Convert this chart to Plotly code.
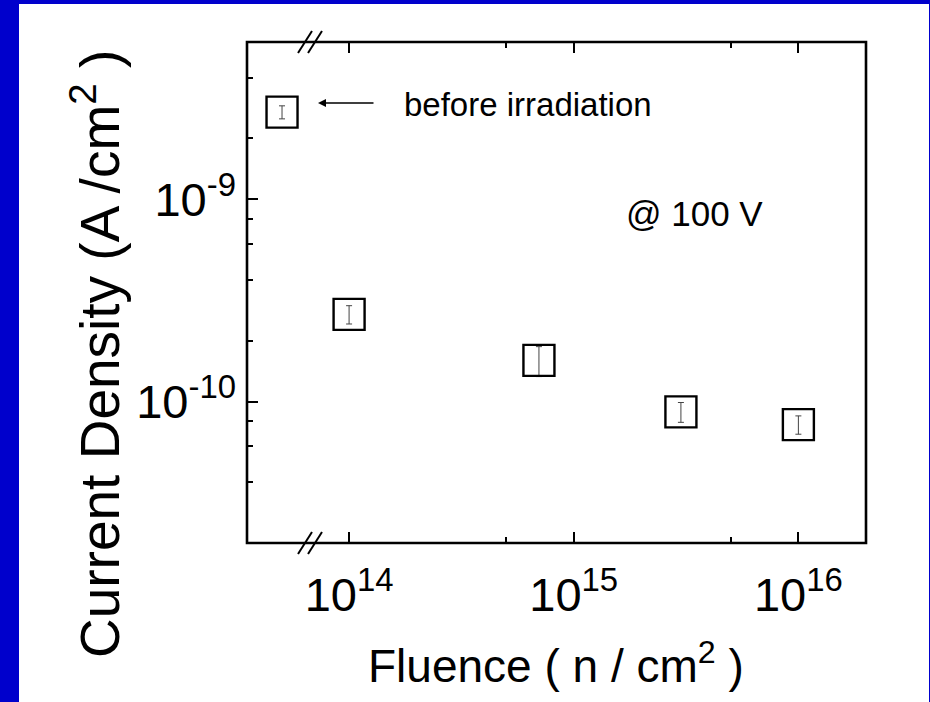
import plotly.graph_objects as go

# Leakage current density at 100 V versus neutron fluence
fluence = [1e14, 7e14, 3e15, 1e16]             # n / cm^2
current = [2.7e-10, 1.6e-10, 8.9e-11, 7.7e-11]  # A / cm^2
current_err = [0.28e-10, 0.27e-10, 0.10e-10, 0.08e-10]

# Unirradiated reference measurement (shown left of the axis break)
before_label = ["before irradiation"]
before_current = [2.7e-9]
before_err = [0.2e-9]

x_major = [1e14, 1e15, 1e16]
x_major_text = ["10<sup>14</sup>", "10<sup>15</sup>", "10<sup>16</sup>"]
x_minor = [5e14, 5e15]
y_major = [1e-10, 1e-9]
y_major_text = ["10<sup>-10</sup>", "10<sup>-9</sup>"]
y_minor = [4e-11, 6e-11, 8e-11, 2e-10, 4e-10, 6e-10, 8e-10, 2e-9, 4e-9]

FONT = "Liberation Sans, Arial, sans-serif"
W, H = 930, 702
L, R, T, B = 247, 64, 42, 159
pw, ph = W - L - R, H - T - B
brk = (310 - L) / pw   # paper position of the axis break


def px(xp):
    return (xp - L) / pw


def py(yp):
    return (H - B - yp) / ph


marker = dict(symbol="square-open", size=31, color="black", line=dict(width=2.4, color="black"))
errstyle = dict(type="data", thickness=1, width=3, color="#444")

fig = go.Figure()
fig.add_trace(go.Scatter(
    x=before_label, y=before_current, mode="markers", marker=marker,
    error_y=dict(array=before_err, **errstyle), xaxis="x", yaxis="y", showlegend=False))
fig.add_trace(go.Scatter(
    x=fluence, y=current, mode="markers", marker=marker,
    error_y=dict(array=current_err, **errstyle), xaxis="x2", yaxis="y", showlegend=False))

y_range = [-10.699, -8.222]
tickfont = dict(family=FONT, size=47, color="black")

fig.update_layout(
    width=W, height=H,
    margin=dict(l=L, r=R, t=T, b=B, pad=0),
    paper_bgcolor="#0000CC",
    plot_bgcolor="white",
    xaxis=dict(domain=[0, brk], type="category", range=[-0.556, 0.444],
               showticklabels=False, ticks="", showgrid=False, zeroline=False,
               showline=False, anchor="y"),
    xaxis2=dict(domain=[brk, 1], type="log", range=[13.826, 16.301],
                tickmode="array", tickvals=x_major, ticktext=x_major_text,
                ticks="inside", ticklen=11, tickwidth=2, tickcolor="black",
                minor=dict(tickmode="array", tickvals=x_minor, ticks="inside",
                           ticklen=6, tickwidth=2, tickcolor="black", showgrid=False),
                mirror="ticks", showline=False, showgrid=False, zeroline=False,
                tickfont=tickfont, anchor="y", ticklabelstandoff=20),
    yaxis=dict(domain=[0, 1], type="log", range=y_range,
               tickmode="array", tickvals=y_major, ticktext=y_major_text,
               ticks="inside", ticklen=11, tickwidth=2, tickcolor="black",
               minor=dict(tickmode="array", tickvals=y_minor, ticks="inside",
                          ticklen=6, tickwidth=2, tickcolor="black", showgrid=False),
               showline=False, showgrid=False, zeroline=False,
               tickfont=tickfont, anchor="x", ticklabelstandoff=10),
    yaxis2=dict(type="log", range=y_range, overlaying="y", side="right", anchor="x2",
                tickmode="array", tickvals=y_major, showticklabels=False,
                ticks="inside", ticklen=11, tickwidth=2, tickcolor="black",
                minor=dict(tickmode="array", tickvals=y_minor, ticks="inside",
                           ticklen=6, tickwidth=2, tickcolor="black", showgrid=False),
                showline=False, showgrid=False, zeroline=False),
)

shapes = [
    # white page area inside the blue border
    dict(type="rect", xref="paper", yref="paper", layer="below",
         x0=px(19), x1=px(929), y0=py(702), y1=py(4),
         fillcolor="white", line=dict(width=0)),
    # plot frame
    dict(type="rect", xref="paper", yref="paper", x0=0, x1=1, y0=0, y1=1,
         line=dict(color="black", width=2.6)),
]
# axis-break marks "//" on the top and bottom frame lines
for yc in (T, H - B):
    for dx in (-5, 5):
        shapes.append(dict(type="line", xref="paper", yref="paper",
                           x0=px(310 + dx - 7), y0=py(yc + 11),
                           x1=px(310 + dx + 7), y1=py(yc - 11),
                           line=dict(color="black", width=2)))
fig.update_layout(shapes=shapes)

annotations = [
    dict(text="before irradiation", xref="paper", yref="paper",
         x=px(402), y=py(104), xanchor="left", yanchor="middle", showarrow=False,
         font=dict(family=FONT, size=33, color="black")),
    dict(text="", xref="paper", yref="paper", x=px(318), y=py(103),
         showarrow=True, ax=57, ay=0, arrowhead=2, arrowsize=1, arrowwidth=1.6,
         arrowcolor="black"),
    dict(text="@ 100 V", xref="paper", yref="paper",
         x=px(624), y=py(213), xanchor="left", yanchor="middle", showarrow=False,
         font=dict(family=FONT, size=35, color="black")),
    dict(text="Fluence ( n / cm<sup>2</sup> )", xref="paper", yref="paper",
         x=px(556), y=py(663), xanchor="center", yanchor="middle", showarrow=False,
         font=dict(family=FONT, size=46, color="black")),
    dict(text="Current Density (A /cm<sup>2</sup> )", xref="paper", yref="paper",
         x=px(96), y=py(354), xanchor="center", yanchor="middle", showarrow=False,
         textangle=-90, font=dict(family=FONT, size=55, color="black")),
]
fig.update_layout(annotations=annotations)

fig.write_html("out.html")
